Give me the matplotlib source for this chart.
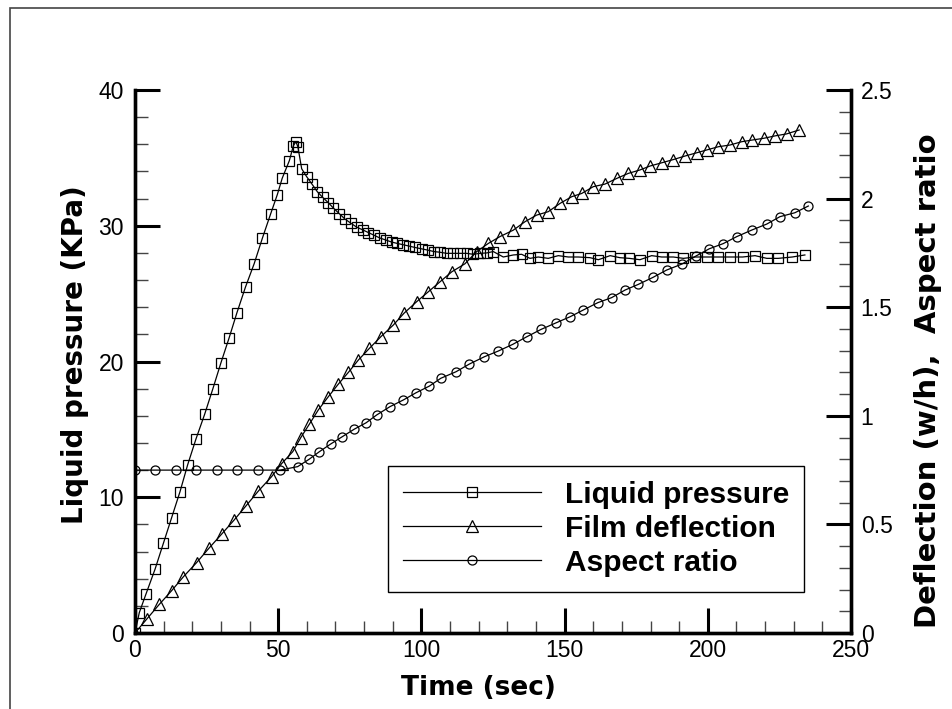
import matplotlib
matplotlib.use('Agg')
import matplotlib.pyplot as plt
from matplotlib.patches import Rectangle
from matplotlib.ticker import MultipleLocator

plt.rcParams['font.family'] = ['Liberation Sans', 'DejaVu Sans']

# liquid pressure (KPa), left axis
t_press = [0, 1.5, 3.8, 7.0, 9.9, 12.8, 15.7, 18.4, 21.3, 24.3,
           27.2, 30.0, 32.8, 35.6, 38.6, 41.6, 44.5, 47.4, 49.7, 51.4,
           53.9, 55.3, 56.2,
           56.9, 58.2, 60.0, 61.7, 63.7, 65.5, 67.5, 69.3, 71.3, 73.3,
           75.3, 77.4, 79.5, 81.5, 83.5, 85.5, 87.6, 89.6, 91.6, 93.7,
           95.8, 97.8, 100.1, 102.4, 104.4, 106.5, 108.8, 111.1, 113.5, 115.8,
           118.1, 120.5, 122.8, 125.1, 128.6, 132.1, 135.0, 137.9, 140.8, 144.3,
           147.8, 151.3, 154.8, 158.9, 161.8, 165.9, 169.3, 172.6, 176.3, 180.4,
           183.9, 188.0, 191.5, 195.5, 199.6, 203.7, 207.8, 212.2, 216.5, 220.6,
           224.6, 229.5, 233.9]
pressure = [0, 1.5, 2.85, 4.7, 6.6, 8.5, 10.4, 12.4, 14.3, 16.1,
            18.0, 19.9, 21.7, 23.6, 25.5, 27.2, 29.1, 30.9, 32.3, 33.5,
            34.8, 35.9, 36.2,
            35.8, 34.2, 33.6, 33.1, 32.5, 32.1, 31.7, 31.3, 30.9, 30.5,
            30.2, 29.9, 29.7, 29.5, 29.3, 29.1, 28.95, 28.8, 28.7, 28.6,
            28.5, 28.4, 28.3, 28.2, 28.1, 28.05, 27.97, 27.97, 27.97, 27.97,
            27.9, 27.97, 28.0, 28.1, 27.7, 27.85, 27.9, 27.6, 27.7, 27.6,
            27.8, 27.7, 27.7, 27.65, 27.5, 27.8, 27.65, 27.6, 27.5, 27.8,
            27.7, 27.7, 27.6, 27.7, 27.7, 27.7, 27.7, 27.7, 27.8, 27.6,
            27.6, 27.7, 27.85]

# film deflection (w/h), right axis
t_defl = [0, 4.1, 8.5, 12.8, 16.9, 21.5, 25.8, 30.3, 34.6, 38.8,
          43.1, 47.7, 51.2, 55.1, 57.9, 60.9, 64.0, 67.5, 71.0, 74.5,
          78.0, 81.8, 85.9, 90.2, 93.9, 98.3, 102.4, 106.5, 110.6, 115.2,
          119.3, 123.4, 127.4, 132.1, 136.2, 140.2, 144.3, 148.4, 152.5, 156.0,
          160.0, 164.1, 168.2, 172.2, 176.3, 179.8, 183.9, 188.0, 192.0, 196.1,
          199.6, 203.7, 207.8, 211.8, 215.6, 219.6, 223.5, 227.5, 231.9]
deflection = [0, 0.064, 0.132, 0.195, 0.259, 0.324, 0.39, 0.456, 0.52, 0.586,
              0.654, 0.72, 0.78, 0.835, 0.90, 0.962, 1.027, 1.088, 1.146, 1.20,
              1.257, 1.31, 1.365, 1.418, 1.472, 1.525, 1.571, 1.617, 1.663, 1.70,
              1.756, 1.794, 1.825, 1.855, 1.894, 1.924, 1.94, 1.978, 2.009, 2.024,
              2.055, 2.067, 2.093, 2.116, 2.132, 2.15, 2.165, 2.18, 2.196, 2.211,
              2.224, 2.239, 2.247, 2.262, 2.27, 2.278, 2.289, 2.298, 2.316]

# aspect ratio, right axis
t_aspect = [0, 7.0, 14.2, 21.3, 28.5, 35.7, 43.1, 50.6, 56.8, 60.8,
            64.4, 68.3, 72.4, 76.5, 80.7, 84.4, 89.0, 93.7, 98.1, 102.8,
            106.8, 112.1, 116.7, 122.0, 126.8, 131.9, 136.8, 141.8, 147.0, 151.9,
            156.5, 161.6, 166.4, 171.1, 175.7, 180.8, 185.6, 191.0, 195.9, 200.5,
            205.4, 210.1, 215.3, 220.6, 225.2, 230.4, 235.1]
aspect = [0.75, 0.75, 0.75, 0.75, 0.75, 0.75, 0.75, 0.75, 0.766, 0.80,
          0.835, 0.87, 0.904, 0.938, 0.968, 1.004, 1.042, 1.073, 1.106, 1.137,
          1.173, 1.203, 1.238, 1.272, 1.298, 1.329, 1.364, 1.398, 1.428, 1.456,
          1.487, 1.521, 1.544, 1.579, 1.605, 1.637, 1.671, 1.699, 1.736, 1.769,
          1.793, 1.825, 1.855, 1.883, 1.917, 1.935, 1.966]

fig = plt.figure(figsize=(9.52, 7.09), dpi=100)
ax = fig.add_axes([0.1418, 0.1072, 0.7521, 0.7658])
ax2 = ax.twinx()

# outer frame (only top/left visible in the picture)
fig.patches.append(Rectangle((10 / 952, -0.1), 1.2, 1.1 - 8 / 709, transform=fig.transFigure,
                             fill=False, edgecolor='#444444', linewidth=1.2))

mk = dict(markerfacecolor='none', markeredgecolor='black', markeredgewidth=0.9)
l1, = ax.plot(t_press, pressure, color='black', lw=0.9, marker='s', markersize=7.5, **mk)
l2, = ax2.plot(t_defl, deflection, color='black', lw=0.9, marker='^', markersize=8, **mk)
l3, = ax2.plot(t_aspect, aspect, color='black', lw=0.9, marker='o', markersize=6.5, **mk)

ax.set_xlim(0, 250)
ax.set_ylim(0, 40)
ax2.set_ylim(0, 2.5)

ax.xaxis.set_major_locator(MultipleLocator(50))
ax.xaxis.set_minor_locator(MultipleLocator(10))
ax.yaxis.set_major_locator(MultipleLocator(10))
ax.yaxis.set_minor_locator(MultipleLocator(2))
ax2.yaxis.set_minor_locator(MultipleLocator(0.1))
ax2.set_yticks([0, 0.5, 1, 1.5, 2, 2.5])
ax2.set_yticklabels(['0', '0.5', '1', '1.5', '2', '2.5'])

for a in (ax, ax2):
    a.spines['top'].set_visible(False)
    for s in ('left', 'right', 'bottom'):
        a.spines[s].set_linewidth(2.4)
    a.tick_params(which='major', direction='in', length=18, width=2.2, labelsize=16.5)
    a.tick_params(which='minor', direction='in', length=9, width=1.0, color='#444444')
ax.tick_params(axis='x', pad=4)
ax.tick_params(axis='y', pad=8)
ax2.tick_params(axis='y', pad=7)

lab = dict(fontweight='bold', family='DejaVu Sans')
ax.set_xlabel('Time (sec)', fontsize=19, **lab)
ax.set_ylabel('Liquid pressure (KPa)', fontsize=20, **lab)
ax2.set_ylabel('Deflection (w/h),  Aspect ratio', fontsize=21, **lab)
ax.xaxis.set_label_coords(0.479, -0.101)
ax.xaxis.label.set_va('center')
ax.yaxis.set_label_coords(-0.084, 0.512)
ax.yaxis.label.set_va('center')
ax2.yaxis.set_label_coords(1.1075, 0.464)
ax2.yaxis.label.set_va('center')

leg = ax2.legend([l1, l2, l3], ['Liquid pressure', 'Film deflection', 'Aspect ratio'],
                 loc='lower left', bbox_to_anchor=(0.354, 0.076), borderaxespad=0,
                 prop={'weight': 'bold', 'size': 21.5}, numpoints=1, handlelength=4.6,
                 handletextpad=0.8, labelspacing=0.2, borderpad=0.5,
                 fancybox=False, framealpha=1, edgecolor='black')
leg.get_frame().set_linewidth(1.0)

fig.savefig('out.png', dpi=100)
